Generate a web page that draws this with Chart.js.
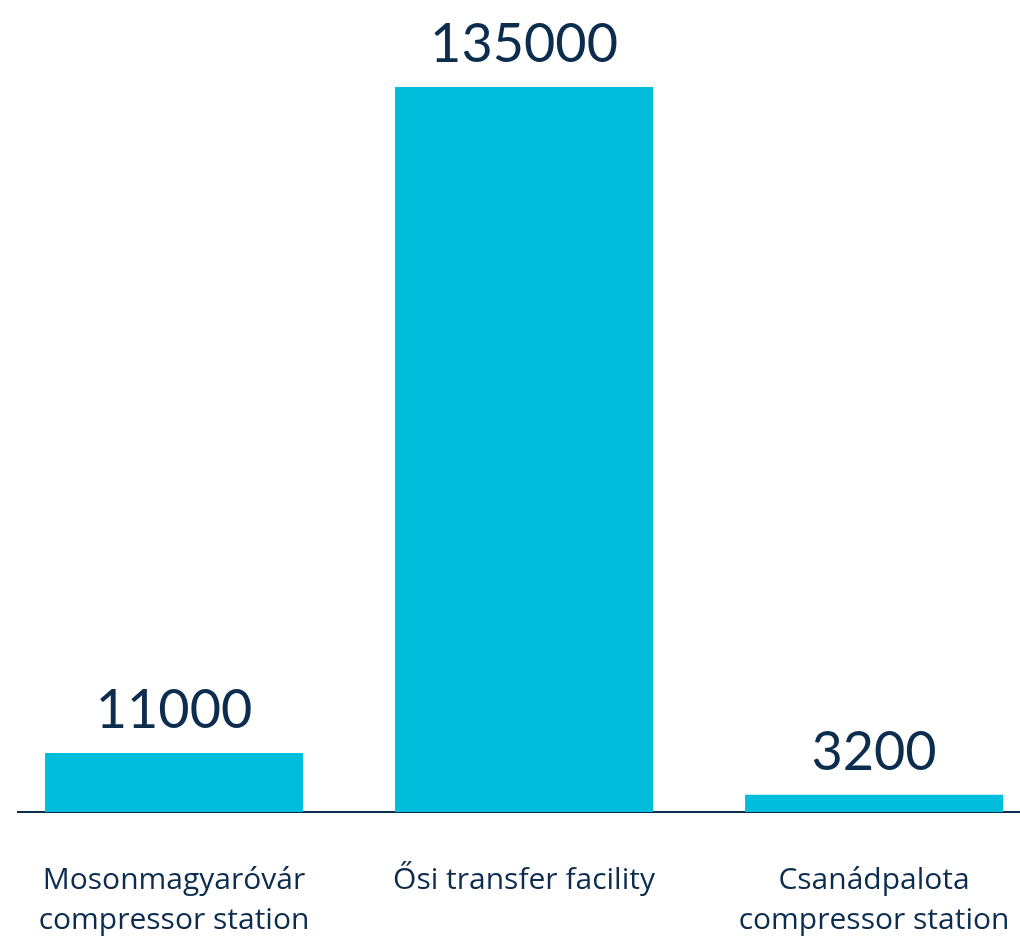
<!DOCTYPE html>
<html>
<head>
<meta charset="utf-8">
<script src="https://cdn.jsdelivr.net/npm/chart.js@4/dist/chart.umd.min.js"></script>
<style>
  html, body { margin: 0; padding: 0; background: #ffffff; }
  canvas { display: block; }
</style>
</head>
<body>
<canvas id="chart" width="1020" height="941"></canvas>
<script>
const sites = [
  ['Mosonmagyaróvár', 'compressor station'],
  'Ősi transfer facility',
  ['Csanádpalota', 'compressor station']
]
const positions = [0, 1, 2]
const capacity = [11000, 135000, 3200]

const navy = '#0c2d4e'
const cyan = '#00bedb'

// numbers printed above each bar
const valueLabels = {
  id: 'valueLabels',
  afterDatasetsDraw(chart) {
    const ctx = chart.ctx
    const meta = chart.getDatasetMeta(0)
    ctx.save()
    ctx.fillStyle = navy
    ctx.font = '400 54px Lato'
    ctx.textAlign = 'center'
    ctx.textBaseline = 'alphabetic'
    meta.data.forEach((bar, i) => {
      ctx.fillText(String(capacity[i]), bar.x, bar.y - 25)
    })
    ctx.restore()
  }
}

new Chart(document.getElementById('chart').getContext('2d'), {
  type: 'bar',
  data: {
    datasets: [{
      data: positions.map((p, i) => ({ x: p, y: capacity[i] })),
      backgroundColor: cyan,
      borderWidth: 0,
      categoryPercentage: 1,
      barPercentage: 0.737,
    }]
  },
  options: {
    responsive: false,
    animation: false,
    layout: { padding: { left: 18, right: 0, top: 0, bottom: 0 } },
    plugins: {
      legend: { display: false },
      tooltip: { enabled: false }
    },
    scales: {
      x: {
        type: 'linear',
        offset: false,
        min: -0.4457,
        max: 2.417,
        grid: { display: false, drawTicks: false, offset: false },
        border: { display: true, color: navy, width: 2 },
        afterBuildTicks: (scale) => {
          scale.ticks = positions.map(v => ({ value: v }))
        },
        afterFit: (scale) => {
          scale.height = 129
          scale.paddingLeft = 0
          scale.paddingRight = 0
        },
        ticks: {
          autoSkip: false,
          maxRotation: 0,
          minRotation: 0,
          padding: 48,
          color: navy,
          font: { family: 'Open Sans', size: 30, lineHeight: 1.35 },
          callback: (value) => sites[value]
        }
      },
      y: {
        display: false,
        min: 0,
        max: 151200
      }
    }
  },
  plugins: [valueLabels]
})
</script>
</body>
</html>
